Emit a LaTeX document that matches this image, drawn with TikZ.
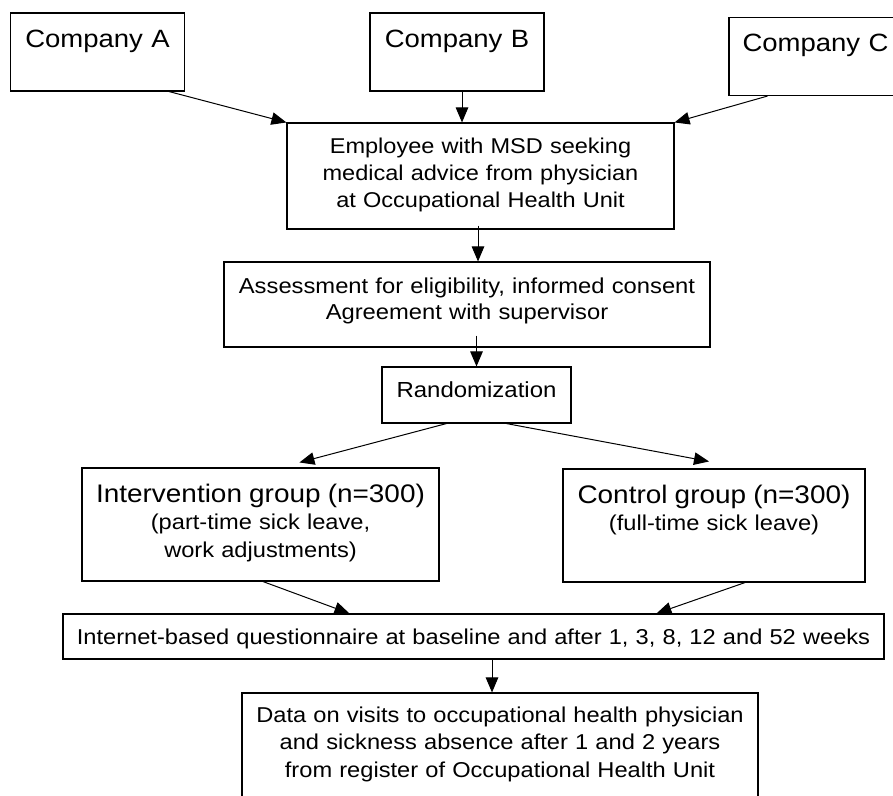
\documentclass[tikz,border=0pt]{standalone}
\usepackage{fontspec}
\setmainfont{Liberation Sans}[FakeStretch=1.1]
\usetikzlibrary{arrows.meta}

\newcommand{\titulo}{\fontsize{25.4}{28}\selectfont}

\begin{document}
\begin{tikzpicture}[
        x=10pt, y=-10pt,
        caixa/.style={shape=rectangle, draw=black, line width=1.1pt, inner sep=0pt, align=center},
        empresa/.style={caixa, text width=174pt, text height=34pt, text depth=44pt, font=\fontsize{25}{30}\selectfont},
        texto/.style={font=\fontsize{21.5}{27.5}\selectfont},
        seta/.style={line width=1pt, -{Triangle[length=15pt, width=12.5pt]}},
    ]
    \useasboundingbox (0, 0) rectangle (89.3, 79.5);

    \node[empresa] (ea) at (9.75, 5.2) {Company A};
    \node[empresa] (eb) at (45.7, 5.2) {Company B};
    \node[empresa, text width=173pt] (ec) at (81.55, 5.65) {Company C};
    \node[caixa, font=\fontsize{21.4}{27}\selectfont, text width=387pt, text height=30pt, text depth=76pt] (func) at (48.05, 17.6) {Employee with MSD seeking\\medical advice from physician\\at Occupational Health Unit};
    \node[caixa, font=\fontsize{21.6}{26}\selectfont, text width=486pt, text height=31pt, text depth=54pt] (aval) at (46.7, 30.45) {Assessment for eligibility, informed consent\\Agreement with supervisor};
    \node[caixa, font=\fontsize{21.8}{26}\selectfont, text width=189pt, text height=30pt, text depth=26pt] (rand) at (47.65, 39.5) {Randomization};
    \node[caixa, texto, text width=357pt, text height=34pt, text depth=79pt] (interv) at (26.05, 52.45) {{\titulo Intervention group (n=300)}\\(part-time sick leave,\\work adjustments)};
    \node[caixa, texto, text width=302pt, text height=34pt, text depth=79pt] (contr) at (71.4, 52.55) {{\titulo Control group (n=300)}\\(full-time sick leave)};
    \node[caixa, texto, text width=821pt, text height=30pt, text depth=15pt] (quest) at (47.35, 63.65) {Internet-based questionnaire at baseline and after 1, 3, 8, 12 and 52 weeks};
    \node[caixa, texto, text width=516pt, text height=29pt, text depth=98pt] (dados) at (50.0, 75.65) {Data on visits to occupational health physician\\and sickness absence after 1 and 2 years\\from register of Occupational Health Unit};

    \draw[seta] ([xshift=-16pt]ea.south east) -- (func.north west);
    \draw[seta] ([xshift=5pt]eb.south) -- ([xshift=5pt]eb.south |- func.north);
    \draw[seta] ([xshift=39pt]ec.south west) -- (func.north east);
    \draw[seta] ([xshift=-2.5pt, yshift=4pt]func.south) -- ([xshift=-2.5pt]func.south |- aval.north);
    \draw[seta] ([yshift=12pt]aval.south -| rand.north) -- (rand.north);
    \draw[seta] ([xshift=65pt]rand.south west) -- ([xshift=218pt, yshift=5pt]interv.north west);
    \draw[seta] ([xshift=125pt]rand.south west) -- ([xshift=-5pt, yshift=7pt]contr.north);
    \draw[seta] ([xshift=2.5pt]interv.south) -- ([xshift=287pt]quest.north west);
    \draw[seta] ([xshift=31pt]contr.south) -- ([xshift=594pt]quest.north west);
    \draw[seta] ([xshift=-8pt]dados.north |- quest.south) -- ([xshift=-8pt]dados.north);

\end{tikzpicture}
\end{document}
